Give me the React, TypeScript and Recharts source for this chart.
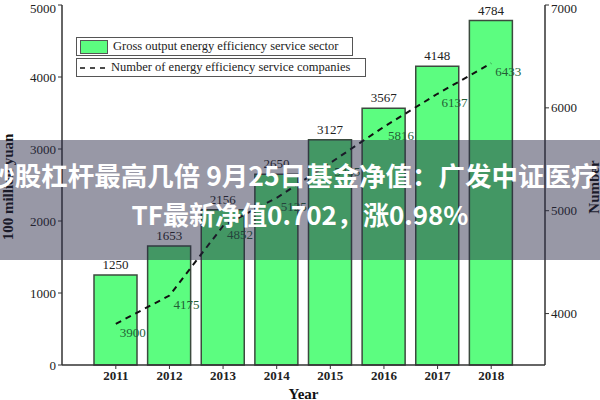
import { ComposedChart, Bar, Line, XAxis, YAxis, LabelList } from 'recharts';

const years = ['2011', '2012', '2013', '2014', '2015', '2016', '2017', '2018'];
const grossOutput = [1250, 1653, 2156, 2650, 3127, 3567, 4148, 4784];
const companies = [3900, 4175, 4852, 5125, 5465, 5816, 6137, 6433];
const leftTicks = [0, 1000, 2000, 3000, 4000, 5000];
const rightTicks = [4000, 5000, 6000, 7000];

const data = years.map((year, i) => ({
    year,
    gross: grossOutput[i],
    companies: companies[i],
}));

const serif = '"Liberation Serif", "DejaVu Serif", serif';

const LineLabel = (props: any) => {
    const { x, y, value } = props;
    return (
        <text x={x + 17} y={y + 13} textAnchor="middle" fontFamily={serif} fontSize={13} fill="#235f35">
            {value}
        </text>
    );
};

// rotated axis title at a fixed x, centred on the plot height
const sideTitle = (text: string, x: number) => (props: any) => {
    const { viewBox } = props;
    const cy = viewBox.y + viewBox.height / 2 + 2;
    return (
        <text
            x={x}
            y={cy}
            transform={`rotate(-90, ${x}, ${cy})`}
            textAnchor="middle"
            dominantBaseline="central"
            fontFamily={serif}
            fontSize={15}
            fontWeight="bold"
            fill="#111"
        >
            {text}
        </text>
    );
};

export default function App() {
    return (
        <div style={{ position: 'relative', width: 600, height: 400, overflow: 'hidden', background: '#fff' }}>
            <style>{`body{margin:0}`}</style>
            <ComposedChart width={600} height={400} data={data} margin={{ top: 5, right: 0, bottom: 0, left: 0 }}>
                <XAxis
                    dataKey="year"
                    padding={{ left: 27, right: 27 }}
                    height={35}
                    tickSize={4}
                    axisLine={{ stroke: '#333', strokeWidth: 1.5 }}
                    tickLine={{ stroke: '#333' }}
                    tick={{ fontFamily: serif, fontSize: 13, fontWeight: 'bold', fill: '#222' }}
                    label={{ value: 'Year', position: 'insideBottom', offset: 1, fontFamily: serif, fontSize: 15, fontWeight: 'bold', fill: '#111' }}
                />
                <YAxis
                    yAxisId="left"
                    domain={[0, 5000]}
                    ticks={leftTicks}
                    width={62}
                    tickSize={4}
                    axisLine={{ stroke: '#333', strokeWidth: 1.5 }}
                    tickLine={{ stroke: '#333' }}
                    tick={{ fontFamily: serif, fontSize: 13, fill: '#222' }}
                    label={{ content: sideTitle('100 million yuan', 8) }}
                />
                <YAxis
                    yAxisId="right"
                    orientation="right"
                    domain={[3500, 7000]}
                    ticks={rightTicks}
                    width={55}
                    tickSize={4}
                    axisLine={{ stroke: '#333', strokeWidth: 1.5 }}
                    tickLine={{ stroke: '#333' }}
                    tick={{ fontFamily: serif, fontSize: 13, fill: '#222' }}
                    label={{ content: sideTitle('Number', 594) }}
                />
                <Bar yAxisId="left" dataKey="gross" barSize={43} fill="#5cfd80" stroke="#3c4a3e" strokeWidth={1.5} isAnimationActive={false}>
                    <LabelList dataKey="gross" position="top" offset={6} fontFamily={serif} fontSize={13} fill="#222" />
                </Bar>
                <Line
                    yAxisId="right"
                    dataKey="companies"
                    type="linear"
                    stroke="#111"
                    strokeWidth={2}
                    strokeDasharray="6 5"
                    dot={false}
                    isAnimationActive={false}
                >
                    <LabelList dataKey="companies" content={<LineLabel />} />
                </Line>
            </ComposedChart>

            <div style={{ position: 'absolute', left: 76, top: 37, fontFamily: serif, fontSize: 12.5, color: '#222' }}>
                <div style={{ display: 'flex', alignItems: 'center', width: 277, height: 19, border: '1px solid #555', padding: '0 0 0 3px', boxSizing: 'border-box' }}>
                    <span style={{ width: 28, height: 14, background: '#5cfd80', border: '1px solid #555', boxSizing: 'border-box', marginRight: 5 }} />
                    Gross output energy efficiency service sector
                </div>
                <div style={{ display: 'flex', alignItems: 'center', width: 290, height: 19, marginTop: 2, border: '1px solid #555', padding: '0 0 0 3px', boxSizing: 'border-box' }}>
                    <svg width={28} height={14} style={{ marginRight: 3 }}>
                        <line x1={0} y1={7} x2={28} y2={7} stroke="#111" strokeWidth={1.5} strokeDasharray="5 5" />
                    </svg>
                    Number of energy efficiency service companies
                </div>
            </div>

            <div style={{ position: 'absolute', left: 0, top: 140, width: 600, height: 120, background: 'rgba(40,40,70,0.48)' }} />
            <div style={{ position: 'absolute', left: -100, top: 155, width: 800, textAlign: 'center', fontFamily: '"Noto Sans CJK SC", sans-serif', fontWeight: 'bold', fontSize: 26, lineHeight: '39px', color: '#fff', whiteSpace: 'nowrap' }}>
                <div style={{ position: 'relative', left: 1, fontSize: 26.5 }}>炒股杠杆最高几倍 9月25日基金净值：广发中证医疗E</div>
                <div>TF最新净值0.702，涨0.98%</div>
            </div>
        </div>
    );
}
